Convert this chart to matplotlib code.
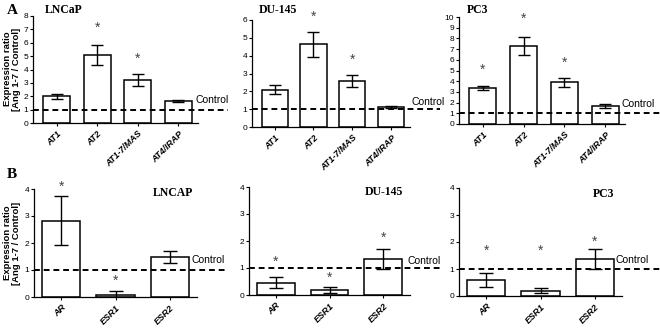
import numpy as np
import matplotlib.pyplot as plt

# data
genes_a = ['AT1', 'AT2', 'AT1-7/MAS', 'AT4/IRAP']
lncap_a = [2.0, 5.05, 3.25, 1.65]
lncap_a_err = [0.2, 0.75, 0.45, 0.08]
lncap_a_star = [None, 7.1, 4.8, None]
du145_a = [2.1, 4.63, 2.6, 1.1]
du145_a_err = [0.25, 0.7, 0.33, 0.05]
du145_a_star = [None, 6.2, 3.76, None]
pc3_a = [3.35, 7.3, 3.9, 1.7]
pc3_a_err = [0.2, 0.85, 0.43, 0.2]
pc3_a_star = [5.05, 9.8, 5.7, None]

genes_b = ['AR', 'ESR1', 'ESR2']
lncap_b = [2.83, 0.07, 1.48]
lncap_b_err = [0.9, 0.15, 0.21]
lncap_b_star = [4.1, 0.6, None]
du145_b = [0.46, 0.18, 1.34]
du145_b_err = [0.2, 0.1, 0.37]
du145_b_star = [1.23, 0.62, 2.13]
pc3_b = [0.6, 0.2, 1.37]
pc3_b_err = [0.25, 0.1, 0.36]
pc3_b_star = [1.66, 1.66, 2.0]

W, H = 660, 328
plt.rcParams['font.family'] = ['Liberation Sans', 'DejaVu Sans']
fig = plt.figure(figsize=(W / 100, H / 100), dpi=100)


def px_axes(left, right, top, bottom):
    return fig.add_axes([left / W, 1 - bottom / H, (right - left) / W, (bottom - top) / H])


def fig_text(x, y, s, **kw):
    fig.text(x / W, 1 - y / H, s, **kw)


def panel(ax, genes, vals, errs, stars, ymax, width, xlim, capsize, dash_ext):
    x = np.arange(len(genes))
    ax.bar(x, vals, width=width, color='white', edgecolor='black', linewidth=1.1, zorder=2)
    ax.errorbar(x, vals, yerr=errs, fmt='none', ecolor='black', elinewidth=1.0,
                capsize=capsize, capthick=1.0, zorder=3)
    for xi, s in zip(x, stars):
        if s is not None:
            ax.text(xi, s, '*', ha='center', va='center', fontsize=10, color='#444444', clip_on=False)
    ax.axhline(1, xmin=0, xmax=dash_ext, color='black', linestyle=(0, (3, 2)), linewidth=1.4,
               clip_on=False, zorder=4)
    ax.set_xlim(*xlim)
    ax.set_ylim(0, ymax)
    ax.set_yticks(np.arange(0, ymax + 1, 1))
    ax.set_xticks(x)
    ax.set_xticklabels(genes, rotation=45, ha='right', rotation_mode='anchor',
                       fontsize=6.5, fontweight='bold', fontstyle='italic')
    ax.tick_params(axis='y', labelsize=6, length=2.5, width=0.8, pad=1)
    ax.tick_params(axis='x', length=2.5, width=0.8, pad=2)
    for side in ['top', 'right']:
        ax.spines[side].set_visible(False)
    for side in ['left', 'bottom']:
        ax.spines[side].set_linewidth(0.9)
    ax.patch.set_alpha(0)


xa = (-0.58, 3.48)
a1 = px_axes(33, 198, 16, 123)
panel(a1, genes_a, lncap_a, lncap_a_err, lncap_a_star, 8, 0.67, xa, 4, 1.18)
a2 = px_axes(252, 410, 20, 127)
panel(a2, genes_a, du145_a, du145_a_err, du145_a_star, 6, 0.67, xa, 4, 1.19)
a3 = px_axes(459, 625, 17, 124)
panel(a3, genes_a, pc3_a, pc3_a_err, pc3_a_star, 10, 0.67, xa, 4, 1.25)

xb = (-0.5, 2.5)
b1 = px_axes(34, 197, 189, 297)
panel(b1, genes_b, lncap_b, lncap_b_err, lncap_b_star, 4, 0.7, xb, 5, 1.18)
b2 = px_axes(249, 410, 187, 295)
panel(b2, genes_b, du145_b, du145_b_err, du145_b_star, 4, 0.7, xb, 5, 1.19)
b3 = px_axes(459, 622, 188, 296)
panel(b3, genes_b, pc3_b, pc3_b_err, pc3_b_star, 4, 0.7, xb, 5, 1.25)

# "Control" labels
for x, y in [(195, 100), (412, 102), (621, 104), (192, 260), (408, 261), (616, 260)]:
    fig_text(x, y, 'Control', fontsize=7.5, va='center', ha='left')

# cell line titles
serif = ['Liberation Serif', 'DejaVu Serif']
for x, y, s in [(45, 10, 'LNCaP'), (259, 10, 'DU-145'), (467, 10, 'PC3'),
                (153, 193, 'LNCAP'), (365, 192, 'DU-145'), (593, 194, 'PC3')]:
    fig_text(x, y, s, fontsize=8.5, fontweight='bold', family=serif, va='center', ha='left')

# panel letters
fig_text(7, 10, 'A', fontsize=11, fontweight='bold', family=serif, va='center')
fig_text(7, 174, 'B', fontsize=11, fontweight='bold', family=serif, va='center')

# y labels
for yc in [69, 243]:
    fig_text(12, yc, 'Expression ratio\n[Ang 1-7 / Control]', rotation=90, fontsize=6.8,
             fontweight='bold', va='center', ha='center', linespacing=1.0)

fig.savefig('out.png', dpi=100)
